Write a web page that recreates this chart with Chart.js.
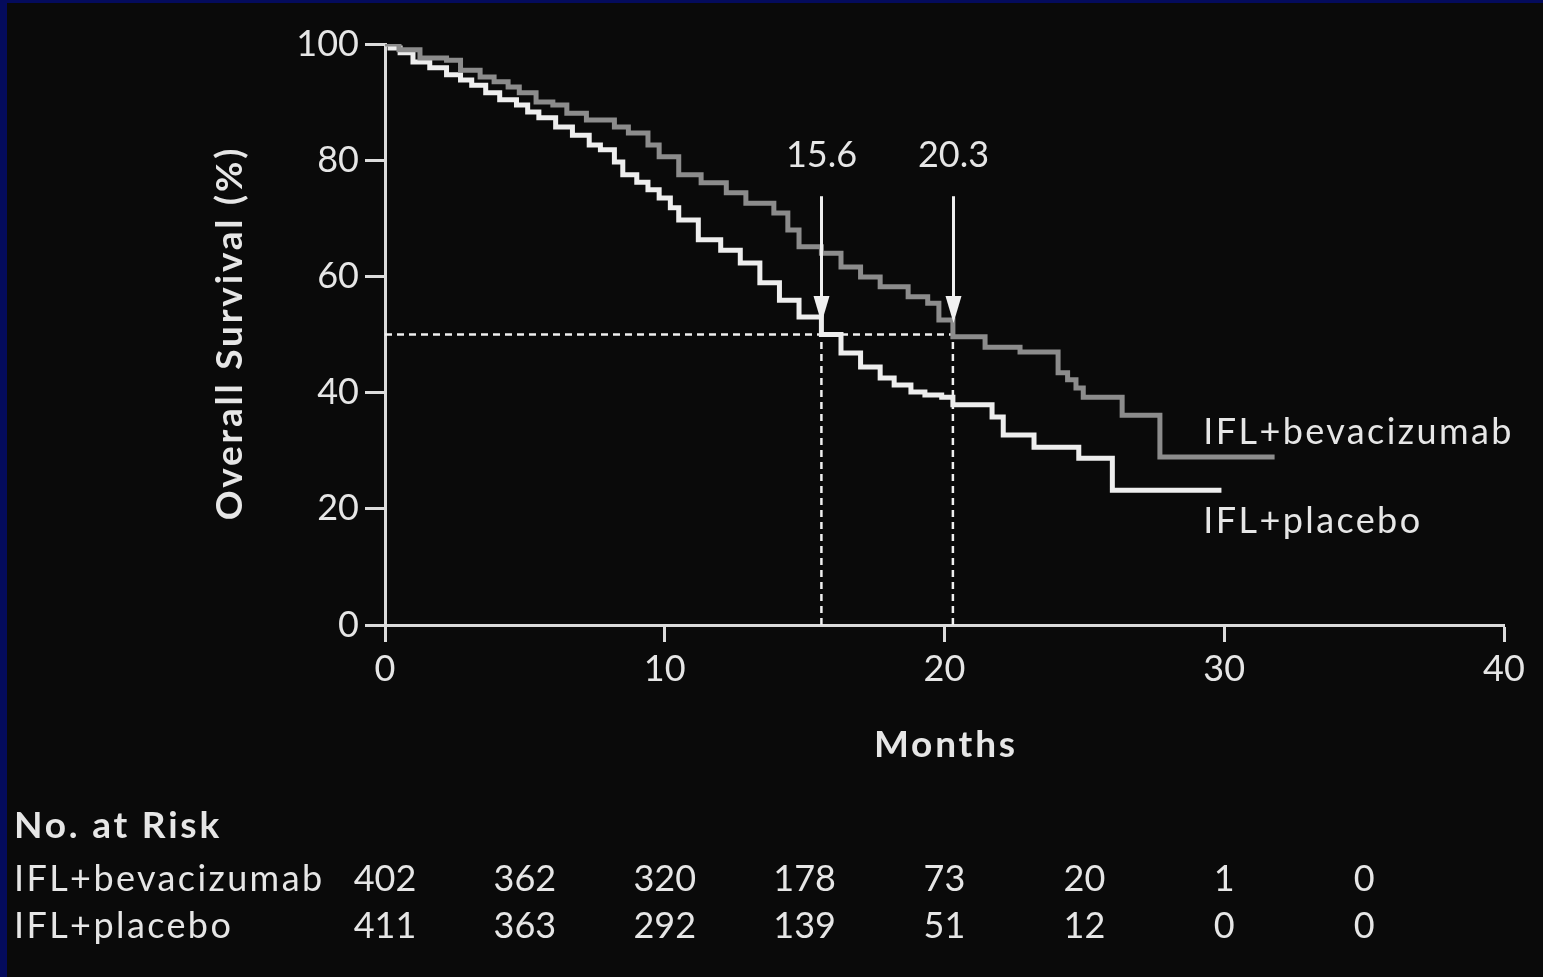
<!DOCTYPE html>
<html>
<head>
<meta charset="utf-8">
<title>Overall Survival</title>
<script src="https://cdn.jsdelivr.net/npm/chart.js@4.4.1/dist/chart.umd.min.js"></script>
<style>
    html, body { margin: 0; padding: 0; background: #0a0a0a; overflow: hidden; }
    #wrap { position: relative; width: 1543px; height: 977px; }
    #frame {
        position: absolute; left: 0; top: 0; width: 1543px; height: 977px;
        box-sizing: border-box; border-left: 7px solid #040b5c; border-top: 3px solid #040b5c;
        pointer-events: none;
    }
</style>
</head>
<body>
<div id="wrap">
    <canvas id="survivalChart" width="1543" height="977"></canvas>
    <div id="frame"></div>
</div>
<script>
// Kaplan-Meier curves (months, % surviving)
var bevMonths = [0, 0.5, 1.25, 2.2, 2.7, 3.4, 3.9, 4.4, 4.8, 5.4, 6.0, 6.5, 7.2, 8.2, 8.7, 9.4, 9.8, 10.5, 11.3, 12.2, 12.9, 13.9, 14.4, 14.8, 15.6, 16.3, 17.0, 17.7, 18.7, 19.4, 19.8, 20.3, 21.45, 22.7, 24.06, 24.4, 24.7, 24.96, 26.35, 27.7, 31.8];
var bevSurvival = [100, 99.0, 97.6, 97.2, 95.5, 94.3, 93.5, 92.6, 91.6, 90.0, 89.5, 88.1, 86.9, 85.7, 84.7, 82.6, 80.6, 77.5, 76.1, 74.4, 72.6, 70.9, 68.0, 65.1, 64.0, 61.6, 59.9, 58.2, 56.5, 55.4, 52.5, 49.6, 47.8, 47.0, 43.4, 42.2, 40.8, 39.2, 36.1, 28.9, 28.9];

var plaMonths = [0, 0.18, 0.54, 1.0, 1.6, 2.2, 2.7, 3.1, 3.6, 4.1, 4.7, 5.1, 5.5, 6.1, 6.7, 7.3, 7.7, 8.2, 8.5, 9.0, 9.4, 9.8, 10.2, 10.5, 11.2, 12.0, 12.7, 13.4, 14.1, 14.8, 15.6, 16.3, 17.0, 17.7, 18.2, 18.8, 19.3, 19.9, 20.3, 21.7, 22.1, 23.2, 24.8, 26.0, 29.9];
var plaSurvival = [100, 99.3, 98.5, 96.9, 95.9, 94.7, 93.8, 92.9, 91.6, 90.4, 89.5, 88.3, 87.3, 85.7, 84.3, 82.6, 81.8, 79.7, 77.5, 76.2, 74.9, 73.5, 71.8, 69.7, 66.3, 64.5, 62.3, 58.9, 55.9, 53.0, 50.0, 46.8, 44.4, 42.5, 41.3, 40.1, 39.6, 39.2, 37.9, 35.8, 32.7, 30.6, 28.7, 23.2, 23.2];

var seriesNames = ['IFL+bevacizumab', 'IFL+placebo'];

// Median survival markers
var medianMonths = [15.6, 20.3];
var medianLevel = 50;

// Axis ticks
var xTicks = [0, 10, 20, 30, 40];
var yTicks = [0, 20, 40, 60, 80, 100];

// No. at risk table
var riskMonths = [0, 5, 10, 15, 20, 25, 30, 35];
var riskBev = [402, 362, 320, 178, 73, 20, 1, 0];
var riskPla = [411, 363, 292, 139, 51, 12, 0, 0];

var FONT = 'Lato, "Open Sans", "DejaVu Sans", sans-serif';
var TEXT = '#e6e6e6';
var AXIS = '#dcdcdc';

function toPoints(xs, ys) {
    return xs.map(function (x, i) { return { x: x, y: ys[i] }; });
}

// Dashed guide lines for medians
var lastMedian = medianMonths[medianMonths.length - 1];
var guideSets = [{
    data: [{ x: 0, y: medianLevel }, { x: lastMedian, y: medianLevel }]
}].concat(medianMonths.map(function (m) {
    return { data: [{ x: m, y: 0 }, { x: m, y: medianLevel }] };
})).map(function (d) {
    return {
        data: d.data,
        borderColor: '#f0f0f0',
        borderWidth: 2.5,
        borderDash: [7, 5],
        pointRadius: 0,
        fill: false
    };
});

// text with the wider tracking of the original typeface
function spacedText(ctx, text, x, y, font, spacing, align) {
    ctx.font = font;
    ctx.letterSpacing = spacing + 'px';
    ctx.textAlign = align || 'left';
    ctx.fillText(text, align === 'center' ? x + spacing / 2 : x, y);
    ctx.letterSpacing = '0px';
}

var annotations = {
    id: 'annotations',
    afterDatasetsDraw: function (chart) {
        var ctx = chart.ctx;
        var x = chart.scales.x, y = chart.scales.y;
        var area = chart.chartArea;
        ctx.save();

        // arrows and median labels
        medianMonths.forEach(function (m) {
            var px = Math.round(x.getPixelForValue(m)) + 0.5;
            var yTop = y.getPixelForValue(73.8);
            var yTip = y.getPixelForValue(52.0);
            ctx.strokeStyle = '#f0f0f0';
            ctx.fillStyle = '#f0f0f0';
            ctx.lineWidth = 3;
            ctx.beginPath();
            ctx.moveTo(px, yTop);
            ctx.lineTo(px, yTip - 20);
            ctx.stroke();
            ctx.beginPath();
            ctx.moveTo(px - 8, yTip - 27);
            ctx.lineTo(px + 8, yTip - 27);
            ctx.lineTo(px, yTip);
            ctx.closePath();
            ctx.fill();

            ctx.fillStyle = TEXT;
            ctx.font = '36px ' + FONT;
            ctx.textAlign = 'center';
            ctx.textBaseline = 'middle';
            ctx.fillText(m.toFixed(1), px, y.getPixelForValue(80.9));
        });

        ctx.fillStyle = TEXT;
        ctx.textBaseline = 'middle';

        // curve labels
        spacedText(ctx, seriesNames[0], x.getPixelForValue(29.25), y.getPixelForValue(33.2), '36px ' + FONT, 2.4);
        spacedText(ctx, seriesNames[1], x.getPixelForValue(29.25), y.getPixelForValue(17.9), '36px ' + FONT, 2.4);

        // axis titles
        spacedText(ctx, 'Months', (area.left + area.right) / 2, 745, 'bold 37px ' + FONT, 2.8, 'center');
        ctx.save();
        ctx.translate(230, (area.top + area.bottom) / 2);
        ctx.rotate(-Math.PI / 2);
        spacedText(ctx, 'Overall Survival (%)', 0, 0, 'bold 37px ' + FONT, 2.8, 'center');
        ctx.restore();

        // number at risk table
        spacedText(ctx, 'No. at Risk', 14, 826, 'bold 37px ' + FONT, 2.8);
        spacedText(ctx, seriesNames[0], 14, 879, '36px ' + FONT, 2.4);
        spacedText(ctx, seriesNames[1], 14, 926, '36px ' + FONT, 2.4);
        ctx.font = '36px ' + FONT;
        ctx.textAlign = 'center';
        riskMonths.forEach(function (m, i) {
            var px = x.getPixelForValue(m);
            ctx.fillText(String(riskBev[i]), px, 879);
            ctx.fillText(String(riskPla[i]), px, 926);
        });
        ctx.restore();
    }
};

var ctx = document.getElementById('survivalChart').getContext('2d');
var survivalChart = new Chart(ctx, {
    type: 'line',
    data: {
        datasets: [{
            label: seriesNames[0],
            data: toPoints(bevMonths, bevSurvival),
            borderColor: '#8c8c8c',
            borderWidth: 5,
            stepped: 'before',
            pointRadius: 0,
            fill: false
        }, {
            label: seriesNames[1],
            data: toPoints(plaMonths, plaSurvival),
            borderColor: '#eeeeee',
            borderWidth: 5,
            stepped: 'before',
            pointRadius: 0,
            fill: false
        }].concat(guideSets)
    },
    options: {
        responsive: false,
        animation: false,
        layout: {
            padding: { left: 0, top: 44, right: 39, bottom: 202 }
        },
        plugins: {
            legend: { display: false },
            tooltip: { enabled: false }
        },
        scales: {
            x: {
                type: 'linear',
                min: 0,
                max: 40,
                afterFit: function (scale) { scale.height = 150; },
                afterBuildTicks: function (scale) {
                    scale.ticks = xTicks.map(function (v) { return { value: v }; });
                },
                border: { display: true, color: AXIS, width: 3 },
                grid: {
                    display: true,
                    drawOnChartArea: false,
                    drawTicks: true,
                    tickLength: 17,
                    tickColor: AXIS,
                    tickWidth: 3
                },
                ticks: {
                    color: TEXT,
                    padding: 6,
                    maxRotation: 0,
                    font: { family: FONT, size: 36 }
                }
            },
            y: {
                type: 'linear',
                min: 0,
                max: 100,
                afterFit: function (scale) { scale.width = 385; },
                afterBuildTicks: function (scale) {
                    scale.ticks = yTicks.map(function (v) { return { value: v }; });
                },
                border: { display: true, color: AXIS, width: 3 },
                grid: {
                    display: true,
                    drawOnChartArea: false,
                    drawTicks: true,
                    tickLength: 20,
                    tickColor: AXIS,
                    tickWidth: 3
                },
                ticks: {
                    color: TEXT,
                    padding: 6,
                    font: { family: FONT, size: 36 }
                }
            }
        }
    },
    plugins: [annotations]
});
</script>
</body>
</html>
